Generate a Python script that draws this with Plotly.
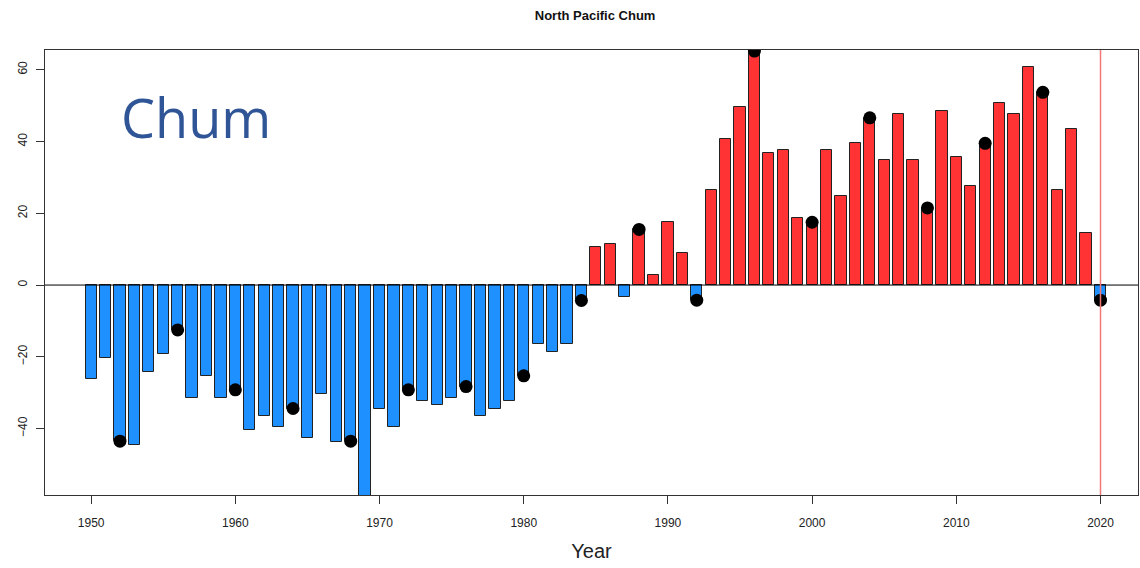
import plotly.graph_objects as go

# North Pacific chum salmon anomaly by return year
years = list(range(1950, 2021))
anomaly = [
    -26.3, -20.2, -43.5, -44.6, -24.3, -19.2, -12.5, -31.4, -25.3, -31.4,  # 1950s
    -29.2, -40.5, -36.4, -39.5, -34.4, -42.5, -30.4, -43.6, -43.5, -62.0,  # 1960s
    -34.4, -39.5, -29.2, -32.4, -33.4, -31.4, -28.3, -36.4, -34.4, -32.4,  # 1970s
    -25.3, -16.5, -18.6, -16.5, -4.3, 10.5, 11.5, -3.4, 15.5, 2.7,         # 1980s
    17.5, 8.8, -4.2, 26.6, 40.6, 49.7, 65.2, 36.8, 37.5, 18.6,             # 1990s
    17.5, 37.5, 24.7, 39.6, 46.6, 34.8, 47.6, 34.8, 21.5, 48.6,            # 2000s
    35.7, 27.7, 39.5, 50.7, 47.6, 60.8, 53.7, 26.6, 43.5, 14.6,            # 2010s
    -4.2,                                                                  # 2020
]

# Years flagged with a dot on top of the bar
marked_years = list(range(1952, 2021, 4))
marked_values = [anomaly[years.index(y)] for y in marked_years]

x_ticks = list(range(1950, 2021, 10))
y_ticks = [-40, -20, 0, 20, 40, 60]

NEG_COLOR = "#1E90FF"
POS_COLOR = "#FF3333"
bar_colors = [NEG_COLOR if v < 0 else POS_COLOR for v in anomaly]

AXIS_FONT = "Liberation Sans, Arial, sans-serif"

fig = go.Figure()

fig.add_trace(go.Bar(
    x=years,
    y=anomaly,
    width=0.78,
    marker=dict(color=bar_colors, line=dict(color="#222222", width=1)),
    showlegend=False,
    hoverinfo="x+y",
))

fig.add_trace(go.Scatter(
    x=marked_years,
    y=marked_values,
    mode="markers",
    marker=dict(color="black", size=13),
    showlegend=False,
    cliponaxis=True,
))

# zero reference line and the current-year marker
fig.add_shape(type="line", xref="paper", yref="y", x0=0, x1=1, y0=0, y1=0,
              line=dict(color="black", width=1), layer="above")
fig.add_shape(type="line", xref="x", yref="paper", x0=2020, x1=2020, y0=0, y1=1,
              line=dict(color="#F07878", width=1.5), layer="above")

fig.add_annotation(
    text="Chum", xref="paper", yref="paper", x=0.068, y=0.849,
    xanchor="left", yanchor="middle", showarrow=False,
    font=dict(family="Open Sans, Noto Sans, sans-serif", size=54, color="#2F5597"),
)

fig.update_layout(
    width=1140, height=568,
    margin=dict(l=45, r=2, t=50, b=73),
    paper_bgcolor="white", plot_bgcolor="white",
    bargap=0,
    title=dict(
        text="<b>North Pacific Chum</b>", x=0.522, xanchor="center",
        y=0.972, yanchor="middle",
        font=dict(family=AXIS_FONT, size=13, color="#111111"),
    ),
    xaxis=dict(
        range=[1946.8, 2022.6],
        tickvals=x_ticks,
        ticks="outside", ticklen=8, tickcolor="#333333",
        ticklabelstandoff=9,
        showline=True, linecolor="#333333", linewidth=1, mirror=True,
        showgrid=False, zeroline=False,
        tickfont=dict(family=AXIS_FONT, size=12, color="#222222"),
        title=dict(text="Year", standoff=14,
                   font=dict(family=AXIS_FONT, size=20, color="#222222")),
    ),
    yaxis=dict(
        range=[-58.5, 65.5],
        tickvals=y_ticks,
        tickangle=-90,
        ticks="outside", ticklen=8, tickcolor="#333333",
        ticklabelstandoff=4,
        showline=True, linecolor="#333333", linewidth=1, mirror=True,
        showgrid=False, zeroline=False,
        tickfont=dict(family=AXIS_FONT, size=12, color="#222222"),
    ),
)

fig.write_html("out.html")
